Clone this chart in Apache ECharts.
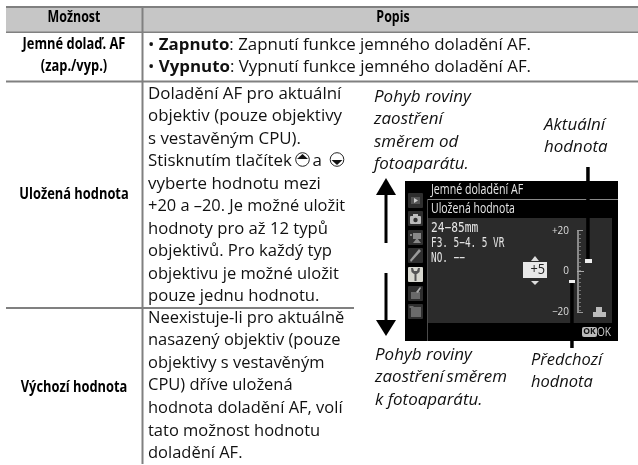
<!DOCTYPE html>
<html><head><meta charset="utf-8">
<style>html,body{margin:0;padding:0;background:#fff}#c{width:638px;height:465px}</style>
<script src="https://cdn.jsdelivr.net/npm/echarts@6/dist/echarts.min.js"></script>
</head><body><div id="c"></div>
<script>
const headers = ['Možnost', 'Popis'];
const rowLabels = [['Jemné dolaď. AF', '(zap./vyp.)'], ['Uložená hodnota'], ['Výchozí hodnota']];
const bulletLines = ['• {b|Zapnuto}: Zapnutí funkce jemného doladění AF.', '• {b|Vypnuto}: Vypnutí funkce jemného doladění AF.'];
const savedLines = ['Doladění AF pro aktuální', 'objektiv (pouze objektivy', 's vestavěným CPU).', 'Stisknutím tlačítek', 'vyberte hodnotu mezi', '+20 a –20. Je možné uložit', 'hodnoty pro až 12 typů', 'objektivů. Pro každý typ', 'objektivu je možné uložit', 'pouze jednu hodnotu.'];
const defaultLines = ['Neexistuje-li pro aktuálně', 'nasazený objektiv (pouze', 'objektivy s vestavěným', 'CPU) dříve uložená', 'hodnota doladění AF, volí', 'tato možnost hodnotu', 'doladění AF.'];
const noteUp = ['Pohyb roviny', 'zaostření', 'směrem od', 'fotoaparátu.'];
const noteDown = ['Pohyb roviny', 'zaostření\u2009směrem', 'k fotoaparátu.'];
const noteCurrent = ['Aktuální', 'hodnota'];
const notePrev = ['Předchozí', 'hodnota'];
const lcdTitle = 'Jemné doladění AF';
const lcdSub = 'Uložená hodnota';
const lcdLens = ['24−85mm', 'F3. 5−4. 5 VR', 'NO. −−'];
const lcdScale = ['+20', '0', '−20'];
const savedFit = [1.055, 1.055, 1.055, 1.055, 1.055, 1.025, 1.04, 1.04, 1.03, 1.04];

const BODY = '"Open Sans"', MONO = '"DejaVu Sans Mono"';
const g = [];
const rect = (x, y, w, h, fill, r) => g.push({type:'rect', shape:{x, y, width:w, height:h, r:r||0}, style:{fill}});
const poly = (points, fill) => g.push({type:'polygon', shape:{points}, style:{fill}});
const text = (t, x, y, font, opt) => { opt = opt||{}; g.push({type:'text', x, y, scaleX:opt.sx||1, style:{text:t, x:0, y:0, font, fill:opt.fill||'#111', align:opt.align||'left', verticalAlign:'middle', rich:opt.rich}}); };

// table
rect(6, 8, 632, 24, '#c6c6c6');
rect(6, 6, 632, 2, '#808080');
rect(6, 31.5, 632, 1.5, '#808080');
rect(6, 80.5, 632, 2, '#808080');
rect(6, 307, 348, 2, '#808080');
rect(141.5, 6, 2, 458, '#808080');

const bodyFont = '16px ' + BODY, headFont = 'bold 15.5px ' + BODY;
const head = {align:'center', sx:0.8, fill:'#000'}, rowHead = {align:'center', sx:0.83, fill:'#000'};
text(headers[0], 74, 18, headFont, head);
text(headers[1], 393, 18, headFont, head);
rowLabels[0].forEach((t,i)=>text(t, 74, 45+i*22, headFont, rowHead));
text(rowLabels[1][0], 74, 195, headFont, rowHead);
text(rowLabels[2][0], 74, 388, headFont, rowHead);
bulletLines.forEach((t,i)=>text(t, 148, 45+i*22, bodyFont, {sx:1.055, rich:{b:{font:'bold 16px '+BODY, fill:'#111'}}}));
savedLines.forEach((t,i)=>text(t, 148, 94+i*22.5, bodyFont, {sx:savedFit[i]}));
text('a', 312.5, 161.5, bodyFont, {sx:1.055});
defaultLines.forEach((t,i)=>text(t, 148, 318+i*22.6, bodyFont, {sx:1.03}));

// selector icons
const selector = (cx, cy, up) => {
  g.push({type:'circle', shape:{cx, cy, r:6.8}, style:{fill:'#fff', stroke:'#222', lineWidth:1}});
  const s = up ? -1 : 1;
  poly([[cx, cy+s*5.5],[cx-5.5, cy+s*0.5],[cx+5.5, cy+s*0.5]], '#111');
};
selector(302.5, 159.5, true);
selector(337, 159.5, false);

// notes
const noteFont = 'italic 16px ' + BODY, NS = 1.06;
noteUp.forEach((t,i)=>text(t, 374, 97+i*22.6, noteFont, {sx:NS}));
noteDown.forEach((t,i)=>text(t, 375, 355+i*22.6, noteFont, {sx:NS}));
noteCurrent.forEach((t,i)=>text(t, 544, 125+i*22.5, noteFont, {sx:NS}));
notePrev.forEach((t,i)=>text(t, 531, 360+i*22.5, noteFont, {sx:1.03}));

// arrows
rect(384.5, 192, 3, 51, '#000');
poly([[386,178],[376,195],[396,195]], '#000');
rect(384.5, 273, 3, 48, '#000');
poly([[386,336],[376,320],[396,320]], '#000');

// camera screen
rect(405, 181, 213, 160, '#000');
rect(428, 218, 184, 105, '#2b2b2b');
rect(427, 199, 191, 1, '#8a8a8a');
rect(427, 199, 1, 142, '#4a4a4a');
// menu tabs
[193,211,230,248,267,286,304].forEach((y,i)=>{
  const active = i===4, h = 15;
  rect(408, y, 15, h, active ? '#d8d8d0' : '#2f2f2f', 1);
  const c = active ? '#555' : '#8a8a8a';
  if (i===0) { rect(411, y+4, 9, 7, '#555'); poly([[414,y+5],[414,y+10],[418,y+7.5]], '#ccc'); }
  if (i===1) { rect(410, y+5, 11, 8, '#bbb', 1); rect(413, y+3, 5, 2, '#bbb'); g.push({type:'circle', shape:{cx:415.5, cy:y+9, r:2.2}, style:{fill:'#333'}}); }
  if (i===2) { rect(413, y+3, 8, 6, '#888'); poly([[413,y+13],[417,y+8],[421,y+13]], '#888'); rect(410, y+4, 2, 2, '#888'); }
  if (i===3) { poly([[411,y+14],[410,y+12],[419,y+1],[421,y+3]], '#9a9a9a'); }
  if (i===4) { rect(414.5, y+6, 2, 8, c); poly([[411,y+1],[413,y+1],[414,y+4],[417,y+4],[418,y+1],[420,y+1],[419.5,y+5],[417,y+7],[414,y+7],[411.5,y+5]], c); }
  if (i===5) { rect(411, y+6, 9, 7, '#6a6a6a'); poly([[416,y+6],[420,y+1],[421,y+2],[418,y+7]], '#aaa'); }
  if (i===6) { rect(411, y+3, 10, 10, '#6a6a6a'); rect(409.5, y+2, 4, 2, '#6a6a6a'); }
});
const lcdFont = '14px ' + BODY;
text(lcdTitle, 431, 190, lcdFont, {fill:'#e6e6e6', sx:0.76});
text(lcdSub, 431, 209, lcdFont, {fill:'#e6e6e6', sx:0.75});
const lensFit = [0.8, 0.67, 0.67];
lcdLens.forEach((t,i)=>text(t, 431, 228+i*15, '14px ' + MONO, {fill:'#e6e6e6', sx:lensFit[i]}));
rect(523, 262, 24, 16, '#e8e8e8');
text('+5', 545, 269.5, '15px ' + BODY, {fill:'#222', align:'right', sx:0.85});
poly([[535,256],[531,261],[539,261]], '#ddd');
poly([[535,285],[531,281],[539,281]], '#ddd');
const scaleOpt = {fill:'#ddd', align:'right', sx:0.95};
text(lcdScale[0], 569, 231.5, '10.5px ' + BODY, scaleOpt);
text(lcdScale[1], 569, 271.5, '10.5px ' + BODY, scaleOpt);
text(lcdScale[2], 569, 312, '10.5px ' + BODY, scaleOpt);
rect(577, 230, 2, 83, '#8a8a8a');
rect(577, 230, 6, 1, '#999');
rect(577, 312, 6, 1, '#999');
for (let y = 234; y < 312; y += 4) rect(579, y, 2, 1, '#6f6f6f');
rect(577, 271, 7, 1, '#aaa');
rect(593, 312, 13, 5, '#bbb');
rect(596, 307, 6, 5, '#bbb');
rect(585, 259, 7, 4, '#eee');
rect(569, 280, 6, 3, '#eee');
text('OK', 611, 332, '13px ' + BODY, {fill:'#ccc', align:'right', sx:0.78});
rect(582, 327, 15, 10, '#bbb', 2);
text('OK', 589.5, 331.5, 'bold 9px ' + BODY, {fill:'#111', align:'center', sx:0.95});
// pointers
rect(586.2, 167, 3.5, 92, '#000');
rect(570.2, 283, 3.5, 65, '#000');

echarts.init(document.getElementById('c'), null, {renderer:'canvas'}).setOption({animation:false, graphic:{elements:g}});
</script></body></html>
